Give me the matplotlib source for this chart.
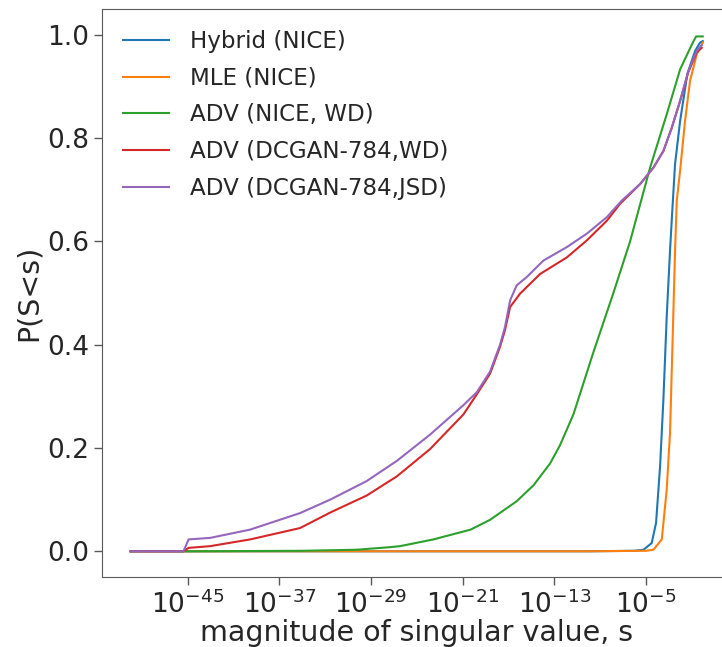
import matplotlib
matplotlib.use("Agg")
import matplotlib.pyplot as plt
import numpy as np

# log10 of singular value magnitude, and cumulative probability P(S<s)
hybrid_logs = [-50, -10, -6, -5.2, -4.48, -4.1, -3.75, -3.46, -3.17, -2.88, -2.68, -2.44, -2.0, -1.37, -0.69, -0.26, -0.02]
hybrid_p = [0, 0, 0.001, 0.003, 0.016, 0.055, 0.164, 0.293, 0.454, 0.582, 0.66, 0.75, 0.833, 0.924, 0.969, 0.985, 0.988]

mle_logs = [-50, -10, -5, -4.33, -3.6, -3.17, -2.88, -2.64, -2.44, -2.29, -2.0, -1.57, -1.13, -0.55, -0.02]
mle_p = [0, 0, 0.001, 0.003, 0.023, 0.119, 0.229, 0.42, 0.582, 0.679, 0.737, 0.833, 0.911, 0.962, 0.985]

nice_wd_logs = [-50, -45, -35, -30.26, -27.35, -26.46, -23.55, -20.3, -18.6, -16.27, -14.8, -13.36, -12.5,
                -11.32, -9.58, -7.83, -6.37, -4.62, -3.17, -2.0, -0.98, -0.6, -0.02]
nice_wd_p = [0, 0, 0.001, 0.003, 0.008, 0.01, 0.023, 0.042, 0.061, 0.097, 0.128, 0.17, 0.205,
             0.265, 0.385, 0.50, 0.60, 0.743, 0.846, 0.933, 0.981, 0.997, 0.997]

dcgan_wd_logs = [-50, -45.38, -44.94, -43.05, -39.56, -35.2, -32.57, -29.38, -26.75, -23.84, -20.93, -19.76,
                 -18.6, -17.73, -17.3, -16.85, -15.98, -14.23, -11.9, -10.15, -8.4, -7.24, -5.5, -4.33, -3.46,
                 -2.73, -2.0, -1.28, -0.55, -0.11]
dcgan_wd_p = [0, 0, 0.0066, 0.01, 0.023, 0.045, 0.075, 0.108, 0.145, 0.198, 0.265, 0.304,
              0.344, 0.396, 0.428, 0.473, 0.499, 0.537, 0.569, 0.602, 0.64, 0.673, 0.711, 0.743, 0.775,
              0.82, 0.872, 0.928, 0.966, 0.975]

dcgan_jsd_logs = [-50, -45.38, -44.94, -43.05, -39.56, -35.2, -32.57, -29.38, -26.75, -23.84, -20.93, -19.76,
                  -18.6, -17.73, -17.3, -16.85, -16.27, -15.4, -13.94, -11.9, -10.15, -8.4, -7.1, -5.5, -4.33,
                  -3.46, -2.73, -2.0, -1.28, -0.55, -0.11]
dcgan_jsd_p = [0, 0, 0.023, 0.026, 0.042, 0.074, 0.1, 0.136, 0.175, 0.226, 0.283, 0.308,
               0.348, 0.40, 0.434, 0.486, 0.515, 0.531, 0.563, 0.589, 0.615, 0.647, 0.679, 0.711, 0.743,
               0.775, 0.82, 0.872, 0.93, 0.969, 0.98]

series = [
    ("Hybrid (NICE)", hybrid_logs, hybrid_p),
    ("MLE (NICE)", mle_logs, mle_p),
    ("ADV (NICE, WD)", nice_wd_logs, nice_wd_p),
    ("ADV (DCGAN-784,WD)", dcgan_wd_logs, dcgan_wd_p),
    ("ADV (DCGAN-784,JSD)", dcgan_jsd_logs, dcgan_jsd_p),
]
xtick_exps = [-45, -37, -29, -21, -13, -5]
yticks = [0.0, 0.2, 0.4, 0.6, 0.8, 1.0]

txt = '#262626'
fig = plt.figure(figsize=(7.22, 6.47), dpi=100)
# right edge of the axes lies just past the figure edge, as in the cropped original
ax = fig.add_axes([0.1413, 0.108, 0.872, 0.878])
for label, logs, p in series:
    ax.plot(10.0 ** np.array(logs), p, label=label, lw=1.5)

ax.set_xscale('log')
ax.set_xlim(10.0 ** -52.5, 10.0 ** 2.5)
ax.set_ylim(-0.05, 1.05)
ax.set_xticks([10.0 ** e for e in xtick_exps], [f'$10^{{{e}}}$' for e in xtick_exps])
ax.xaxis.set_minor_locator(matplotlib.ticker.NullLocator())
ax.set_yticks(yticks, [f'{v:.1f}' for v in yticks])
ax.tick_params(labelsize=19, colors=txt, length=6, width=1.0)
ax.tick_params(color='0.35')
for s in ax.spines.values():
    s.set_color('0.35')
ax.spines['right'].set_visible(False)
ax.set_xlabel('magnitude of singular value, s', fontsize=20.5, color=txt, labelpad=0)
ax.set_ylabel('P(S<s)', fontsize=20.5, color=txt, labelpad=3)
leg = ax.legend(loc='upper left', frameon=False, fontsize=16.6, labelspacing=0.6, handletextpad=0.9)
for t in leg.get_texts():
    t.set_color(txt)

fig.savefig('out.png', dpi=100)
